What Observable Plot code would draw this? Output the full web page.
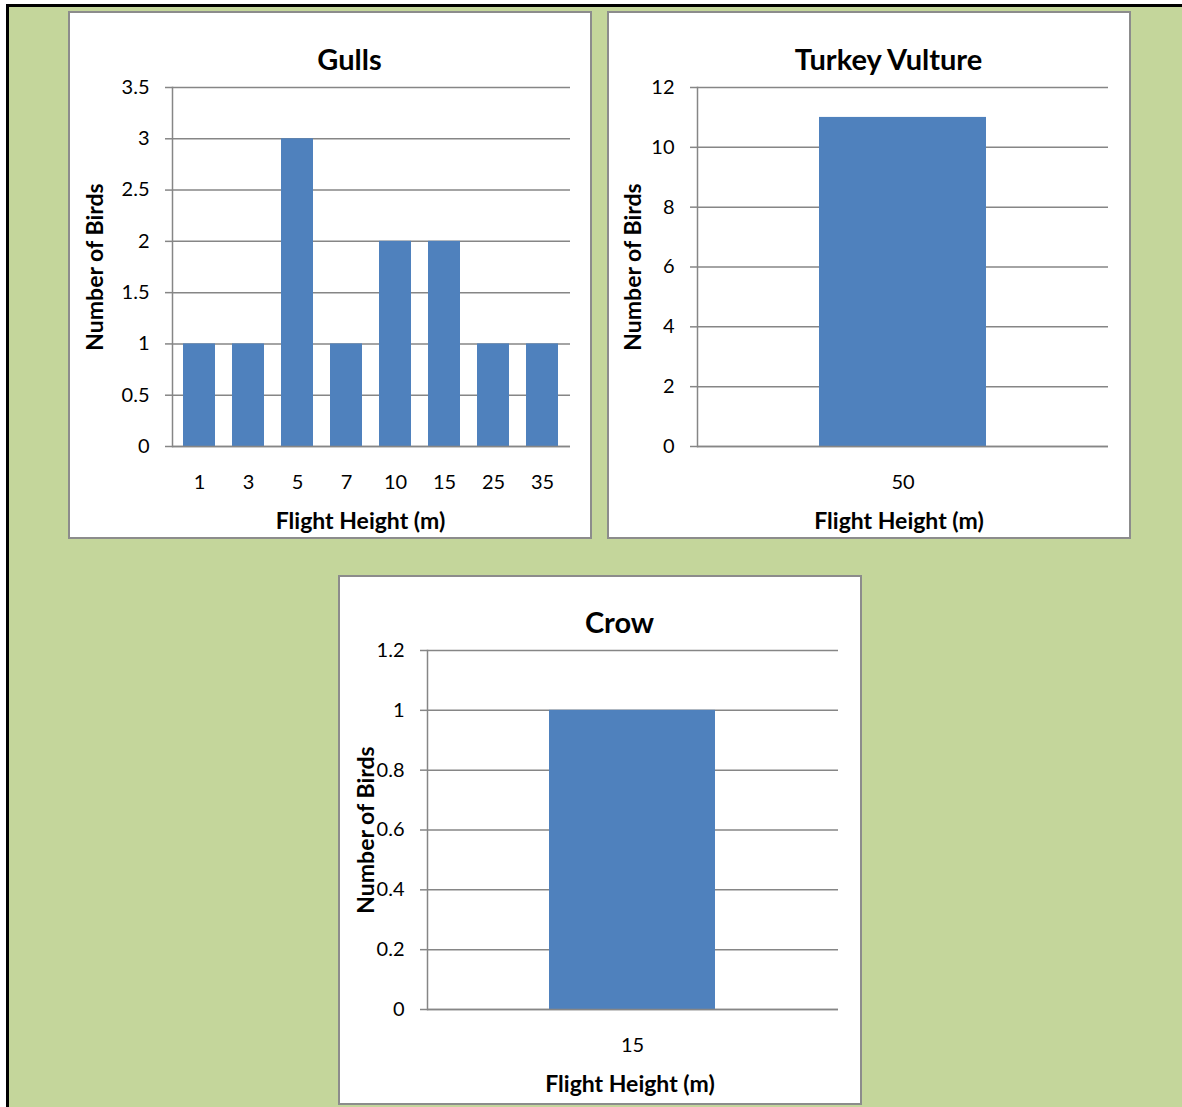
<!DOCTYPE html>
<html>
<head>
<meta charset="utf-8">
<script src="https://cdn.jsdelivr.net/npm/d3@7"></script>
<script src="https://cdn.jsdelivr.net/npm/@observablehq/plot@0.6"></script>
<style>
  html, body { margin: 0; padding: 0; background: #fff; overflow: hidden; width: 1182px; height: 1107px; }
  #bg { position: absolute; left: 6px; top: 4px; width: 1173px; height: 1100px;
        background: #c4d69b; border-left: 3px solid #000; border-top: 3px solid #000; }
  .panel { position: absolute; width: 524px; height: 528px; box-sizing: border-box;
           border: 2px solid #8c8c8c; background: #fff; }
  .panel svg { display: block; }
</style>
</head>
<body>
<div id="bg"></div>
<div class="panel" id="gulls" style="left:68px; top:11px;"></div>
<div class="panel" id="vulture" style="left:607px; top:11px;"></div>
<div class="panel" id="crow" style="left:338px; top:575px; height:530px;"></div>
<script>
const gullHeights = ["1", "3", "5", "7", "10", "15", "25", "35"];
const gullCounts = [1, 1, 3, 1, 2, 2, 1, 1];
const gullTicks = [0, 0.5, 1, 1.5, 2, 2.5, 3, 3.5];

const vultureHeights = ["50"];
const vultureCounts = [11];
const vultureTicks = [0, 2, 4, 6, 8, 10, 12];

const crowHeights = ["15"];
const crowCounts = [1];
const crowTicks = [0, 0.2, 0.4, 0.6, 0.8, 1, 1.2];

const titles = ["Gulls", "Turkey Vulture", "Crow"];
const xLabel = "Flight Height (m)";
const yLabel = "Number of Birds";

const GRID = "#868686";
const BAR = "#4f81bd";
const FONT = "Lato, 'Open Sans', sans-serif";

function chart({heights, counts, ticks, title, mL, mR, mT, gap, yLabDx, xLabDx}) {
  const data = heights.map((h, i) => ({h, n: counts[i]}));
  const W = 520, H = 524;
  const frameCx = (mL + (W - mR)) / 2;
  return Plot.plot({
    width: W, height: H,
    marginLeft: mL, marginRight: mR, marginTop: mT, marginBottom: H - mT - 359,
    style: {fontFamily: FONT, fontSize: "20px", color: "#000", background: "#fff", overflow: "visible"},
    x: {type: "band", domain: heights, paddingInner: gap, paddingOuter: gap / 2, label: null},
    y: {domain: [0, ticks[ticks.length - 1]], label: null},
    marks: [
      Plot.gridY(ticks, {stroke: GRID, strokeOpacity: 1, strokeWidth: 1.5}),
      Plot.barY(data, {x: "h", y: "n", fill: BAR}),
      Plot.axisY(ticks, {tickSize: 7, tickPadding: 16, stroke: GRID, strokeOpacity: 1, strokeWidth: 1.5,
                         fontSize: 20, fill: "#000", label: null, tickFormat: d => `${d}`}),
      Plot.axisX({tickSize: 0, tickPadding: 28, fontSize: 20, fill: "#000", label: null}),
      Plot.frame({anchor: "left", stroke: GRID, strokeOpacity: 1, strokeWidth: 1.5}),
      Plot.ruleY([0], {stroke: GRID, strokeWidth: 1.5}),
      Plot.text([title], {frameAnchor: "top", textAnchor: "middle", lineAnchor: "middle",
                          dx: 279 - frameCx, dy: -27, fontSize: 29, fontWeight: "bold", fill: "#000"}),
      Plot.text([xLabel], {frameAnchor: "bottom", textAnchor: "middle", lineAnchor: "middle",
                           dx: xLabDx, dy: 75, fontSize: 23, fontWeight: "bold", fill: "#000"}),
      Plot.text([yLabel], {frameAnchor: "left", textAnchor: "middle", lineAnchor: "middle",
                           rotate: -90, dx: yLabDx, dy: 0, fontSize: 23, fontWeight: "bold", fill: "#000"})
    ]
  });
}

document.getElementById("gulls").append(chart({
  heights: gullHeights, counts: gullCounts, ticks: gullTicks, title: titles[0],
  mL: 102, mR: 20, mT: 74, gap: 0.337, yLabDx: -77, xLabDx: -11
}));
document.getElementById("vulture").append(chart({
  heights: vultureHeights, counts: vultureCounts, ticks: vultureTicks, title: titles[1],
  mL: 88, mR: 21, mT: 74, gap: 0.594, yLabDx: -64, xLabDx: -4
}));
document.getElementById("crow").append(chart({
  heights: crowHeights, counts: crowCounts, ticks: crowTicks, title: titles[2],
  mL: 87, mR: 22, mT: 73, gap: 0.596, yLabDx: -61, xLabDx: -3
}));
</script>
</body>
</html>
